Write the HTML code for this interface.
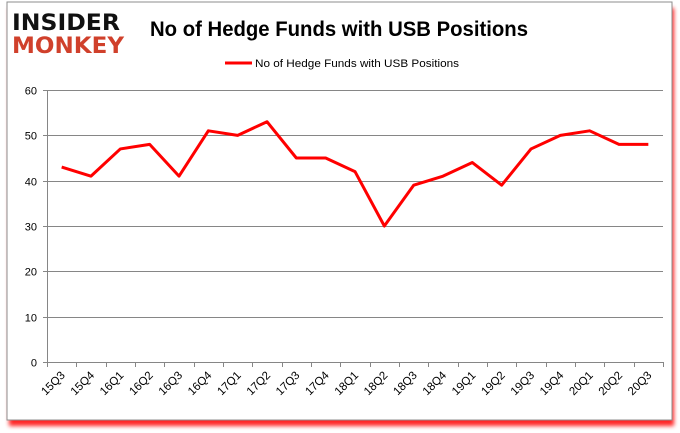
<!DOCTYPE html>
<html><head><meta charset="utf-8"><style>
html,body{margin:0;padding:0;background:#fff;width:680px;height:433px;overflow:hidden;font-family:"Liberation Sans",sans-serif}
</style></head><body>
<svg width="680" height="433" xmlns="http://www.w3.org/2000/svg">
<defs><filter id="sh" x="-5%" y="-5%" width="110%" height="115%"><feGaussianBlur stdDeviation="2"/></filter></defs>
<rect x="9" y="8" width="665" height="418" fill="#ff0000" filter="url(#sh)" opacity="0.85"/>
<rect x="7" y="2" width="665" height="418" fill="#fff" stroke="#8c8c8c" stroke-width="1"/>
<g>
<text x="12" y="30" font-size="22" font-weight="bold" fill="#111" font-family="'DejaVu Sans',sans-serif" textLength="108" lengthAdjust="spacingAndGlyphs">INSIDER</text>
<text x="12" y="53" font-size="22" font-weight="bold" fill="#d0402b" font-family="'DejaVu Sans',sans-serif" textLength="112" lengthAdjust="spacingAndGlyphs">MONKEY</text>
</g>
<text x="339" y="36" text-anchor="middle" font-size="21" font-weight="bold" fill="#000" textLength="378" lengthAdjust="spacingAndGlyphs">No of Hedge Funds with USB Positions</text>
<g>
<line x1="225" y1="63" x2="252" y2="63" stroke="#ff0000" stroke-width="3"/>
<text x="255" y="67" font-size="11" fill="#000" textLength="204" lengthAdjust="spacingAndGlyphs">No of Hedge Funds with USB Positions</text>
</g>
<g id="grid"></g><g id="axes"></g><g id="series"></g>
</svg>
<script>
const categories=["15Q3","15Q4","16Q1","16Q2","16Q3","16Q4","17Q1","17Q2","17Q3","17Q4","18Q1","18Q2","18Q3","18Q4","19Q1","19Q2","19Q3","19Q4","20Q1","20Q2","20Q3"];
const values=[43,41,47,48,41,51,50,53,45,45,42,30,39,41,44,39,47,50,51,48,48];
const yTicks=[0,10,20,30,40,50,60];
const NS="http://www.w3.org/2000/svg";
const x0=47,x1=663,yb=362,yt=90,ymax=60;
const step=(x1-x0)/categories.length;
const xs=i=>x0+step*(i+0.5);
const ys=v=>yb-(v/ymax)*(yb-yt);
function mk(t,a,p){const e=document.createElementNS(NS,t);for(const k in a)e.setAttribute(k,a[k]);p.appendChild(e);return e;}
const grid=document.getElementById('grid'),axes=document.getElementById('axes'),series=document.getElementById('series');
yTicks.forEach(v=>{
 const y=Math.round(ys(v))+0.5;
 const g=mk('line',{x1:x0,x2:x1,y1:y,y2:y,stroke:'#868686','stroke-width':1},grid);
 
 
 const tk=mk('line',{x1:x0-4,x2:x0,y1:y,y2:y,stroke:'#868686'},axes);
 
 
 const t=mk('text',{x:x0-10,y:y+4,'text-anchor':'end','font-size':11,fill:'#000'},axes);
 t.textContent=v;
 
 
});
const ya=mk('line',{x1:x0+0.5,x2:x0+0.5,y1:yt,y2:yb,stroke:'#868686'},axes);


for(let i=0;i<=categories.length;i++){
 const x=Math.round(x0+step*i)+0.5;
 const tk=mk('line',{x1:x,x2:x,y1:yb,y2:yb+5,stroke:'#868686'},axes);
 
 
}
categories.forEach((c,i)=>{
 const x=xs(i)+4,y=yb+14;
 const t=mk('text',{x:x,y:y,'text-anchor':'end','font-size':11.5,fill:'#000',transform:`rotate(-45 ${x} ${y})`},axes);
 t.textContent=c;
 
 
});
const pl=mk('polyline',{points:values.map((v,i)=>xs(i)+','+ys(v)).join(' '),fill:'none',stroke:'#ff0000','stroke-width':3,'stroke-linejoin':'round'},series);


</script>
</body></html>
